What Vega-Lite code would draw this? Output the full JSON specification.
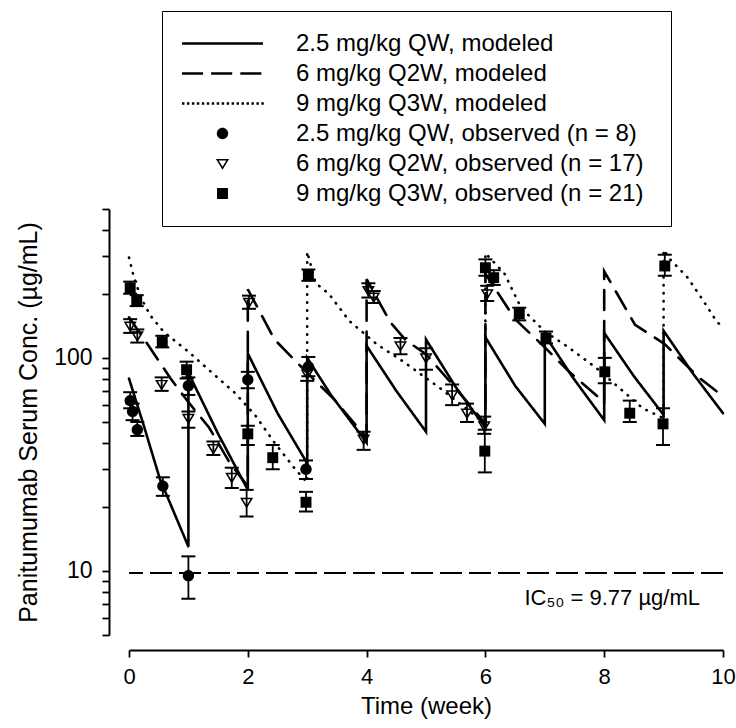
{
  "$schema": "https://vega.github.io/schema/vega-lite/v6.json",
  "width": 594,
  "height": 426,
  "autosize": {"type": "none"},
  "padding": {"left": 129, "top": 209, "right": 13, "bottom": 93},
  "background": "white",
  "config": {
    "view": {"stroke": null},
    "axis": {
      "grid": false,
      "domainColor": "black",
      "tickColor": "black",
      "labelColor": "black",
      "titleColor": "black",
      "labelFont": "Liberation Sans",
      "titleFont": "Liberation Sans",
      "titleFontWeight": "normal",
      "domainWidth": 2,
      "tickWidth": 1.8,
      "tickSize": 7
    }
  },
  "datasets": {
    "curves": [
      {"series": "2.5 mg/kg QW, modeled", "i": 0, "t": 0, "conc": 80},
      {"series": "2.5 mg/kg QW, modeled", "i": 1, "t": 0.27, "conc": 46},
      {"series": "2.5 mg/kg QW, modeled", "i": 2, "t": 0.52, "conc": 27},
      {"series": "2.5 mg/kg QW, modeled", "i": 3, "t": 1, "conc": 13},
      {"series": "2.5 mg/kg QW, modeled", "i": 4, "t": 1, "conc": 85},
      {"series": "2.5 mg/kg QW, modeled", "i": 5, "t": 1.5, "conc": 44},
      {"series": "2.5 mg/kg QW, modeled", "i": 6, "t": 2, "conc": 24},
      {"series": "2.5 mg/kg QW, modeled", "i": 7, "t": 2, "conc": 105},
      {"series": "2.5 mg/kg QW, modeled", "i": 8, "t": 2.5, "conc": 55},
      {"series": "2.5 mg/kg QW, modeled", "i": 9, "t": 3, "conc": 32},
      {"series": "2.5 mg/kg QW, modeled", "i": 10, "t": 3, "conc": 100},
      {"series": "2.5 mg/kg QW, modeled", "i": 11, "t": 3.4, "conc": 67},
      {"series": "2.5 mg/kg QW, modeled", "i": 12, "t": 4, "conc": 40},
      {"series": "2.5 mg/kg QW, modeled", "i": 13, "t": 4, "conc": 114},
      {"series": "2.5 mg/kg QW, modeled", "i": 14, "t": 4.5, "conc": 70},
      {"series": "2.5 mg/kg QW, modeled", "i": 15, "t": 5, "conc": 45},
      {"series": "2.5 mg/kg QW, modeled", "i": 16, "t": 5, "conc": 122},
      {"series": "2.5 mg/kg QW, modeled", "i": 17, "t": 5.5, "conc": 73},
      {"series": "2.5 mg/kg QW, modeled", "i": 18, "t": 6, "conc": 47},
      {"series": "2.5 mg/kg QW, modeled", "i": 19, "t": 6, "conc": 125},
      {"series": "2.5 mg/kg QW, modeled", "i": 20, "t": 6.5, "conc": 74},
      {"series": "2.5 mg/kg QW, modeled", "i": 21, "t": 7, "conc": 49},
      {"series": "2.5 mg/kg QW, modeled", "i": 22, "t": 7, "conc": 128},
      {"series": "2.5 mg/kg QW, modeled", "i": 23, "t": 7.47, "conc": 81},
      {"series": "2.5 mg/kg QW, modeled", "i": 24, "t": 8, "conc": 51},
      {"series": "2.5 mg/kg QW, modeled", "i": 25, "t": 8, "conc": 131},
      {"series": "2.5 mg/kg QW, modeled", "i": 26, "t": 8.5, "conc": 82},
      {"series": "2.5 mg/kg QW, modeled", "i": 27, "t": 9, "conc": 54},
      {"series": "2.5 mg/kg QW, modeled", "i": 28, "t": 9, "conc": 134},
      {"series": "2.5 mg/kg QW, modeled", "i": 29, "t": 9.5, "conc": 84},
      {"series": "2.5 mg/kg QW, modeled", "i": 30, "t": 10, "conc": 55},
      {"series": "6 mg/kg Q2W, modeled", "i": 0, "t": 0, "conc": 155},
      {"series": "6 mg/kg Q2W, modeled", "i": 1, "t": 0.35, "conc": 112},
      {"series": "6 mg/kg Q2W, modeled", "i": 2, "t": 0.7, "conc": 80},
      {"series": "6 mg/kg Q2W, modeled", "i": 3, "t": 1, "conc": 62},
      {"series": "6 mg/kg Q2W, modeled", "i": 4, "t": 1.35, "conc": 47},
      {"series": "6 mg/kg Q2W, modeled", "i": 5, "t": 1.7, "conc": 32},
      {"series": "6 mg/kg Q2W, modeled", "i": 6, "t": 2, "conc": 25},
      {"series": "6 mg/kg Q2W, modeled", "i": 7, "t": 2, "conc": 210},
      {"series": "6 mg/kg Q2W, modeled", "i": 8, "t": 2.45, "conc": 122},
      {"series": "6 mg/kg Q2W, modeled", "i": 9, "t": 3, "conc": 85},
      {"series": "6 mg/kg Q2W, modeled", "i": 10, "t": 3.45, "conc": 64},
      {"series": "6 mg/kg Q2W, modeled", "i": 11, "t": 4, "conc": 42},
      {"series": "6 mg/kg Q2W, modeled", "i": 12, "t": 4, "conc": 234},
      {"series": "6 mg/kg Q2W, modeled", "i": 13, "t": 4.4, "conc": 147},
      {"series": "6 mg/kg Q2W, modeled", "i": 14, "t": 4.66, "conc": 121},
      {"series": "6 mg/kg Q2W, modeled", "i": 15, "t": 5, "conc": 104},
      {"series": "6 mg/kg Q2W, modeled", "i": 16, "t": 5.5, "conc": 72},
      {"series": "6 mg/kg Q2W, modeled", "i": 17, "t": 6, "conc": 49},
      {"series": "6 mg/kg Q2W, modeled", "i": 18, "t": 6, "conc": 248},
      {"series": "6 mg/kg Q2W, modeled", "i": 19, "t": 6.5, "conc": 152},
      {"series": "6 mg/kg Q2W, modeled", "i": 20, "t": 7, "conc": 112},
      {"series": "6 mg/kg Q2W, modeled", "i": 21, "t": 7.41, "conc": 86},
      {"series": "6 mg/kg Q2W, modeled", "i": 22, "t": 7.86, "conc": 67},
      {"series": "6 mg/kg Q2W, modeled", "i": 23, "t": 8, "conc": 61},
      {"series": "6 mg/kg Q2W, modeled", "i": 24, "t": 8, "conc": 255},
      {"series": "6 mg/kg Q2W, modeled", "i": 25, "t": 8.52, "conc": 143},
      {"series": "6 mg/kg Q2W, modeled", "i": 26, "t": 9.02, "conc": 116},
      {"series": "6 mg/kg Q2W, modeled", "i": 27, "t": 9.59, "conc": 81},
      {"series": "6 mg/kg Q2W, modeled", "i": 28, "t": 10, "conc": 66},
      {"series": "9 mg/kg Q3W, modeled", "i": 0, "t": 0, "conc": 296},
      {"series": "9 mg/kg Q3W, modeled", "i": 1, "t": 0.08, "conc": 240},
      {"series": "9 mg/kg Q3W, modeled", "i": 2, "t": 0.2, "conc": 192},
      {"series": "9 mg/kg Q3W, modeled", "i": 3, "t": 0.36, "conc": 158},
      {"series": "9 mg/kg Q3W, modeled", "i": 4, "t": 0.59, "conc": 132},
      {"series": "9 mg/kg Q3W, modeled", "i": 5, "t": 1, "conc": 107},
      {"series": "9 mg/kg Q3W, modeled", "i": 6, "t": 1.3, "conc": 90},
      {"series": "9 mg/kg Q3W, modeled", "i": 7, "t": 1.77, "conc": 69},
      {"series": "9 mg/kg Q3W, modeled", "i": 8, "t": 2.12, "conc": 54},
      {"series": "9 mg/kg Q3W, modeled", "i": 9, "t": 2.45, "conc": 40},
      {"series": "9 mg/kg Q3W, modeled", "i": 10, "t": 2.8, "conc": 30},
      {"series": "9 mg/kg Q3W, modeled", "i": 11, "t": 3, "conc": 26},
      {"series": "9 mg/kg Q3W, modeled", "i": 12, "t": 3, "conc": 315},
      {"series": "9 mg/kg Q3W, modeled", "i": 13, "t": 3.14, "conc": 225},
      {"series": "9 mg/kg Q3W, modeled", "i": 14, "t": 3.37, "conc": 199},
      {"series": "9 mg/kg Q3W, modeled", "i": 15, "t": 3.71, "conc": 149},
      {"series": "9 mg/kg Q3W, modeled", "i": 16, "t": 4.17, "conc": 116},
      {"series": "9 mg/kg Q3W, modeled", "i": 17, "t": 4.62, "conc": 96},
      {"series": "9 mg/kg Q3W, modeled", "i": 18, "t": 5.24, "conc": 72},
      {"series": "9 mg/kg Q3W, modeled", "i": 19, "t": 5.6, "conc": 60},
      {"series": "9 mg/kg Q3W, modeled", "i": 20, "t": 6, "conc": 49},
      {"series": "9 mg/kg Q3W, modeled", "i": 21, "t": 6, "conc": 310},
      {"series": "9 mg/kg Q3W, modeled", "i": 22, "t": 6.32, "conc": 249},
      {"series": "9 mg/kg Q3W, modeled", "i": 23, "t": 6.6, "conc": 172},
      {"series": "9 mg/kg Q3W, modeled", "i": 24, "t": 7, "conc": 133},
      {"series": "9 mg/kg Q3W, modeled", "i": 25, "t": 7.4, "conc": 112},
      {"series": "9 mg/kg Q3W, modeled", "i": 26, "t": 7.86, "conc": 90},
      {"series": "9 mg/kg Q3W, modeled", "i": 27, "t": 8.14, "conc": 77},
      {"series": "9 mg/kg Q3W, modeled", "i": 28, "t": 8.65, "conc": 58},
      {"series": "9 mg/kg Q3W, modeled", "i": 29, "t": 9, "conc": 52},
      {"series": "9 mg/kg Q3W, modeled", "i": 30, "t": 9, "conc": 322},
      {"series": "9 mg/kg Q3W, modeled", "i": 31, "t": 9.11, "conc": 290},
      {"series": "9 mg/kg Q3W, modeled", "i": 32, "t": 9.4, "conc": 239},
      {"series": "9 mg/kg Q3W, modeled", "i": 33, "t": 9.65, "conc": 189},
      {"series": "9 mg/kg Q3W, modeled", "i": 34, "t": 9.88, "conc": 150},
      {"series": "9 mg/kg Q3W, modeled", "i": 35, "t": 10, "conc": 138}
    ],
    "obs": [
      {"series": "2.5 mg/kg QW, observed (n = 8)", "t": 0.02, "conc": 63, "lo": 58, "hi": 69},
      {"series": "2.5 mg/kg QW, observed (n = 8)", "t": 0.06, "conc": 56, "lo": 51, "hi": 61},
      {"series": "2.5 mg/kg QW, observed (n = 8)", "t": 0.14, "conc": 46, "lo": 43, "hi": 50},
      {"series": "2.5 mg/kg QW, observed (n = 8)", "t": 0.57, "conc": 25, "lo": 22.5, "hi": 27.5},
      {"series": "2.5 mg/kg QW, observed (n = 8)", "t": 1.0, "conc": 9.5, "lo": 7.4, "hi": 11.7},
      {"series": "2.5 mg/kg QW, observed (n = 8)", "t": 1.0, "conc": 74, "lo": 67, "hi": 81},
      {"series": "2.5 mg/kg QW, observed (n = 8)", "t": 2.0, "conc": 79, "lo": 72, "hi": 86},
      {"series": "2.5 mg/kg QW, observed (n = 8)", "t": 2.98, "conc": 30, "lo": 27, "hi": 33},
      {"series": "2.5 mg/kg QW, observed (n = 8)", "t": 3.02, "conc": 91, "lo": 82, "hi": 101},
      {"series": "6 mg/kg  Q2W, observed (n = 17)", "t": 0.02, "conc": 141, "lo": 131, "hi": 152},
      {"series": "6 mg/kg  Q2W, observed (n = 17)", "t": 0.14, "conc": 127, "lo": 118, "hi": 136},
      {"series": "6 mg/kg  Q2W, observed (n = 17)", "t": 0.55, "conc": 75, "lo": 70, "hi": 81},
      {"series": "6 mg/kg  Q2W, observed (n = 17)", "t": 1.0, "conc": 52, "lo": 47, "hi": 56},
      {"series": "6 mg/kg  Q2W, observed (n = 17)", "t": 1.42, "conc": 37.5, "lo": 35, "hi": 40.5},
      {"series": "6 mg/kg  Q2W, observed (n = 17)", "t": 1.73, "conc": 27.5, "lo": 24.5, "hi": 30.5},
      {"series": "6 mg/kg  Q2W, observed (n = 17)", "t": 1.98, "conc": 21, "lo": 18, "hi": 24},
      {"series": "6 mg/kg  Q2W, observed (n = 17)", "t": 2.02, "conc": 182, "lo": 170, "hi": 196},
      {"series": "6 mg/kg  Q2W, observed (n = 17)", "t": 3.0, "conc": 84, "lo": 78, "hi": 91},
      {"series": "6 mg/kg  Q2W, observed (n = 17)", "t": 3.95, "conc": 41.5, "lo": 37, "hi": 45},
      {"series": "6 mg/kg  Q2W, observed (n = 17)", "t": 4.03, "conc": 207, "lo": 192, "hi": 224},
      {"series": "6 mg/kg  Q2W, observed (n = 17)", "t": 4.12, "conc": 193, "lo": 181, "hi": 206},
      {"series": "6 mg/kg  Q2W, observed (n = 17)", "t": 4.57, "conc": 114, "lo": 104, "hi": 124},
      {"series": "6 mg/kg  Q2W, observed (n = 17)", "t": 5.0, "conc": 100, "lo": 88, "hi": 111},
      {"series": "6 mg/kg  Q2W, observed (n = 17)", "t": 5.44, "conc": 67, "lo": 60, "hi": 75},
      {"series": "6 mg/kg  Q2W, observed (n = 17)", "t": 5.69, "conc": 55, "lo": 50, "hi": 61},
      {"series": "6 mg/kg  Q2W, observed (n = 17)", "t": 5.98, "conc": 48, "lo": 44, "hi": 53},
      {"series": "6 mg/kg  Q2W, observed (n = 17)", "t": 6.03, "conc": 200, "lo": 185, "hi": 218},
      {"series": "9 mg/kg Q3W, observed  (n = 21)", "t": 0.02, "conc": 213, "lo": 200, "hi": 228},
      {"series": "9 mg/kg Q3W, observed  (n = 21)", "t": 0.13, "conc": 185, "lo": 175, "hi": 197},
      {"series": "9 mg/kg Q3W, observed  (n = 21)", "t": 0.56, "conc": 119, "lo": 112, "hi": 127},
      {"series": "9 mg/kg Q3W, observed  (n = 21)", "t": 0.97, "conc": 88, "lo": 80, "hi": 96},
      {"series": "9 mg/kg Q3W, observed  (n = 21)", "t": 2.0, "conc": 44, "lo": 39, "hi": 48},
      {"series": "9 mg/kg Q3W, observed  (n = 21)", "t": 2.42, "conc": 34, "lo": 30, "hi": 39},
      {"series": "9 mg/kg Q3W, observed  (n = 21)", "t": 2.98, "conc": 21, "lo": 19, "hi": 23.5},
      {"series": "9 mg/kg Q3W, observed  (n = 21)", "t": 3.02, "conc": 245, "lo": 230, "hi": 260},
      {"series": "9 mg/kg Q3W, observed  (n = 21)", "t": 5.99, "conc": 36.5, "lo": 29, "hi": 46},
      {"series": "9 mg/kg Q3W, observed  (n = 21)", "t": 6.0, "conc": 265, "lo": 243, "hi": 290},
      {"series": "9 mg/kg Q3W, observed  (n = 21)", "t": 6.14, "conc": 238, "lo": 220, "hi": 258},
      {"series": "9 mg/kg Q3W, observed  (n = 21)", "t": 6.57, "conc": 161, "lo": 150, "hi": 172},
      {"series": "9 mg/kg Q3W, observed  (n = 21)", "t": 7.02, "conc": 124, "lo": 117, "hi": 133},
      {"series": "9 mg/kg Q3W, observed  (n = 21)", "t": 8.01, "conc": 86, "lo": 76, "hi": 100},
      {"series": "9 mg/kg Q3W, observed  (n = 21)", "t": 8.43, "conc": 55, "lo": 50, "hi": 63},
      {"series": "9 mg/kg Q3W, observed  (n = 21)", "t": 8.99, "conc": 49, "lo": 39, "hi": 58},
      {"series": "9 mg/kg Q3W, observed  (n = 21)", "t": 9.02, "conc": 270, "lo": 243, "hi": 305}
    ],
    "ic50": [
      {"conc": 9.77, "label": "IC₅₀ = 9.77 µg/mL"}
    ]
  },
  "layer": [
    {
      "data": {"name": "ic50"},
      "mark": {"type": "rule", "color": "black", "strokeWidth": 2, "strokeDash": [22, 7]},
      "encoding": {
        "y": {
          "field": "conc",
          "type": "quantitative",
          "title": "Panitumumab Serum Conc. (µg/mL)",
          "scale": {"type": "log", "domain": [5, 500], "nice": false},
          "axis": {
            "offset": 20,
            "values": [5, 6, 7, 8, 9, 10, 20, 30, 40, 50, 60, 70, 80, 90, 100, 200, 300, 400, 500],
            "labelExpr": "datum.value == 10 ? '10' : datum.value == 100 ? '100' : ''",
            "labelFontSize": 23,
            "labelPadding": 10,
            "labelOverlap": false,
            "labelBound": false,
            "titleFontSize": 25,
            "titlePadding": 12
          }
        }
      }
    },
    {
      "data": {"name": "curves"},
      "mark": {"type": "line", "color": "black", "strokeCap": "round"},
      "encoding": {
        "x": {
          "field": "t",
          "type": "quantitative",
          "title": "Time (week)",
          "scale": {"domain": [0, 10], "nice": false, "zero": false},
          "axis": {
            "offset": 15,
            "values": [0, 2, 4, 6, 8, 10],
            "format": "d",
            "labelFontSize": 22,
            "labelPadding": 9,
            "labelFlush": false,
            "titleFontSize": 24,
            "titlePadding": 7
          }
        },
        "y": {
          "field": "conc",
          "type": "quantitative",
          "title": "Panitumumab Serum Conc. (µg/mL)",
          "scale": {"type": "log", "domain": [5, 500], "nice": false}
        },
        "strokeDash": {
          "field": "series",
          "type": "nominal",
          "scale": {
            "domain": ["2.5 mg/kg QW, modeled", "6 mg/kg Q2W, modeled", "9 mg/kg Q3W, modeled"],
            "range": [[1, 0], [20, 11], [0.5, 7.5]]
          },
          "legend": null
        },
        "strokeWidth": {
          "field": "series",
          "type": "nominal",
          "scale": {
            "domain": ["2.5 mg/kg QW, modeled", "6 mg/kg Q2W, modeled", "9 mg/kg Q3W, modeled"],
            "range": [2.6, 2.6, 3.3]
          },
          "legend": null
        },
        "order": {"field": "i", "type": "quantitative"}
      }
    },
    {
      "data": {"name": "obs"},
      "mark": {
        "type": "errorbar",
        "color": "black",
        "rule": {"strokeWidth": 1.8, "color": "black", "opacity": 1},
        "ticks": {"size": 14, "thickness": 2, "color": "black", "opacity": 1}
      },
      "encoding": {
        "x": {"field": "t", "type": "quantitative", "title": "Time (week)", "scale": {"domain": [0, 10], "nice": false, "zero": false}},
        "y": {"field": "lo", "type": "quantitative", "title": "Panitumumab Serum Conc. (µg/mL)", "scale": {"type": "log", "domain": [5, 500], "nice": false}},
        "y2": {"field": "hi"}
      }
    },
    {
      "data": {"name": "obs"},
      "mark": {"type": "point", "filled": true, "color": "black", "opacity": 1, "strokeWidth": 0, "size": 6561},
      "encoding": {
        "x": {"field": "t", "type": "quantitative", "title": "Time (week)", "scale": {"domain": [0, 10], "nice": false, "zero": false}},
        "y": {"field": "conc", "type": "quantitative", "title": "Panitumumab Serum Conc. (µg/mL)", "scale": {"type": "log", "domain": [5, 500], "nice": false}},
        "shape": {
          "field": "series",
          "type": "nominal",
          "scale": {
            "domain": [
              "2.5 mg/kg QW, modeled",
              "6 mg/kg Q2W, modeled",
              "9 mg/kg Q3W, modeled",
              "2.5 mg/kg QW, observed (n = 8)",
              "6 mg/kg  Q2W, observed (n = 17)",
              "9 mg/kg Q3W, observed  (n = 21)"
            ],
            "range": [
              "M-1,-0.031H1V0.031H-1Z",
              "M-1,-0.031H-0.48V0.031H-1ZM-0.28,-0.031H0.24V0.031H-0.28ZM0.44,-0.031H0.96V0.031H0.44Z",
              "M-1,-0.03H-0.94V0.03H-1ZM-0.878,-0.03H-0.818V0.03H-0.878ZM-0.755,-0.03H-0.695V0.03H-0.755ZM-0.633,-0.03H-0.573V0.03H-0.633ZM-0.51,-0.03H-0.45V0.03H-0.51ZM-0.388,-0.03H-0.328V0.03H-0.388ZM-0.265,-0.03H-0.205V0.03H-0.265ZM-0.143,-0.03H-0.083V0.03H-0.143ZM-0.02,-0.03H0.04V0.03H-0.02ZM0.103,-0.03H0.163V0.03H0.103ZM0.225,-0.03H0.285V0.03H0.225ZM0.348,-0.03H0.408V0.03H0.348ZM0.47,-0.03H0.53V0.03H0.47ZM0.593,-0.03H0.653V0.03H0.593ZM0.715,-0.03H0.775V0.03H0.715ZM0.838,-0.03H0.898V0.03H0.838ZM0.96,-0.03H1.02V0.03H0.96Z",
              "M0.14,0C0.14,0.0773,0.0773,0.14,0,0.14C-0.0773,0.14,-0.14,0.0773,-0.14,0C-0.14,-0.0773,-0.0773,-0.14,0,-0.14C0.0773,-0.14,0.14,-0.0773,0.14,0Z",
              "M-0.162,-0.114L0.162,-0.114L0,0.157ZM-0.095,-0.077L0,0.08L0.095,-0.077Z",
              "M-0.135,-0.135H0.135V0.135H-0.135Z"
            ]
          },
          "legend": {
            "orient": "none",
            "legendX": 33,
            "legendY": -198,
            "title": null,
            "direction": "vertical",
            "columns": 1,
            "padding": 20,
            "clipHeight": 25,
            "rowPadding": 5,
            "labelOffset": 33,
            "labelFont": "Liberation Sans",
            "labelFontSize": 24,
            "labelColor": "black",
            "labelLimit": 600,
            "symbolSize": 6561,
            "symbolFillColor": "black",
            "symbolStrokeWidth": 0,
            "symbolOpacity": 1,
            "strokeColor": "black",
            "fillColor": "white",
            "encode": {"legend": {"update": {"strokeWidth": {"value": 2}}}}
          }
        }
      }
    },
    {
      "data": {"name": "ic50"},
      "mark": {
        "type": "text",
        "align": "right",
        "baseline": "middle",
        "dx": -23,
        "dy": 25,
        "font": "Liberation Sans",
        "fontSize": 22,
        "color": "black"
      },
      "encoding": {
        "x": {"value": "width"},
        "y": {"field": "conc", "type": "quantitative", "title": "Panitumumab Serum Conc. (µg/mL)", "scale": {"type": "log", "domain": [5, 500], "nice": false}},
        "text": {"field": "label"}
      }
    }
  ]
}
